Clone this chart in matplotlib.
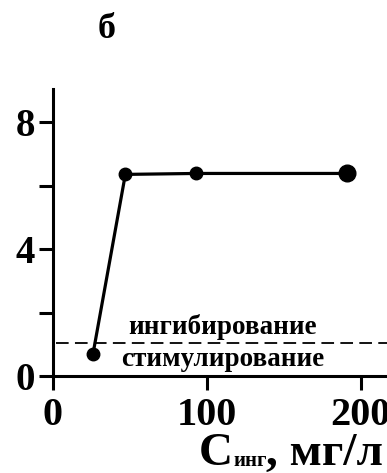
import numpy as np
import matplotlib
matplotlib.use('Agg')
import matplotlib.pyplot as plt

plt.rcParams['font.family'] = ['Liberation Serif', 'DejaVu Serif']
plt.rcParams['font.weight'] = 'bold'

# data
conc = [26, 47, 93, 191]
value = [0.7, 6.35, 6.38, 6.38]
threshold = 1.04
xticks = [0, 100, 200]
yticks = [0, 2, 4, 6, 8]
ytick_labels = ['0', '', '4', '', '8']

fig = plt.figure(figsize=(3.87, 4.73), dpi=100)
ax = fig.add_axes([53/387, 97/473, 334/387, 287/473])

ax.plot(conc, value, color='black', lw=2.3, marker='o', ms=9, zorder=3)
ax.plot(conc[-1], value[-1], 'o', color='black', ms=12, zorder=4)
ax.axhline(threshold, xmin=0.01, color='black', lw=1.3, dashes=(7, 3.5))

ax.text(110, 1.54, 'ингибирование', fontsize=19.5, fontweight='bold',
        ha='center', va='center')
ax.text(110, 0.52, 'стимулирование', fontsize=19.5, fontweight='bold',
        ha='center', va='center')

ax.set_xlim(0, 217)
ax.set_ylim(0, 9.04)
ax.set_xticks(xticks)
ax.set_xticklabels([str(v) for v in xticks])
ax.set_yticks(yticks)
ax.set_yticklabels(ytick_labels)

for s in ['top', 'right']:
    ax.spines[s].set_visible(False)
for s in ['left', 'bottom']:
    ax.spines[s].set_linewidth(2.2)

ax.tick_params(axis='both', direction='out', length=10, width=2.2)
ax.tick_params(axis='x', labelsize=29, pad=5)
ax.tick_params(axis='y', labelsize=28, pad=3)
for lab in ax.get_xticklabels() + ax.get_yticklabels():
    lab.set_fontweight('bold')

fig.text(107/387, 1 - 30/473, 'б', fontsize=26, fontweight='bold',
         ha='center', va='center')

# x label built from pieces: big C, small subscript, then units
fig.canvas.draw()
r = fig.canvas.get_renderer()
x0 = 199/387
yb = 1 - 465/473
parts = [('C', 34, 0), ('инг', 15, -1), (', мг/л', 34, 0)]
for txt, size, dy in parts:
    t = fig.text(x0, yb + dy/473, txt, fontsize=size, fontweight='bold',
                 ha='left', va='baseline')
    bb = t.get_window_extent(renderer=r)
    x0 = bb.x1 / fig.bbox.width

fig.savefig('out.png', dpi=100)
